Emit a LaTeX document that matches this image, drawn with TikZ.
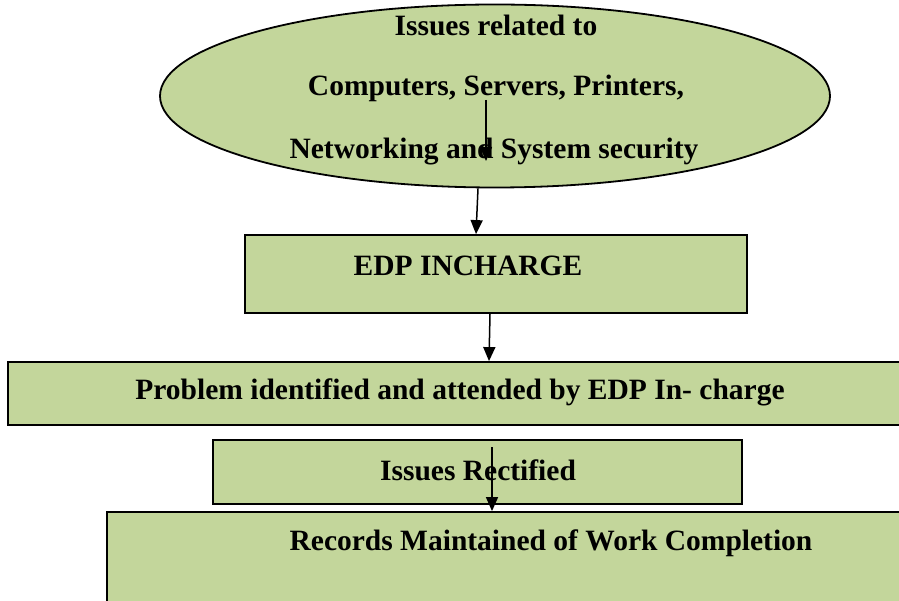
\documentclass[tikz,border=0pt]{standalone}
\usepackage{fontspec}
\setmainfont{Liberation Serif}
\usetikzlibrary{shapes.geometric,arrows.meta}
\definecolor{boxfill}{HTML}{C3D69B}
\tikzset{
  box/.style={draw=black, line width=1.8pt, fill=boxfill, rectangle, inner sep=0pt},
  oval/.style={draw=black, line width=1.8pt, fill=boxfill, ellipse, inner sep=0pt},
  lbl/.style={font=\fontsize{29.5}{33}\selectfont\bfseries, inner sep=0pt, anchor=center},
  flow/.style={draw=black, line width=1.5pt, -{Triangle[length=14pt,width=12pt]}}
}
\begin{document}
\begin{tikzpicture}[x=1pt,y=-1pt]
\useasboundingbox (0,0) rectangle (899,601);
\clip (0,0) rectangle (899,601);
\node[oval, minimum width=670pt, minimum height=183pt] (issues) at (495,96) {};
\node[lbl] (t1) at (496,25) {Issues related to};
\node[lbl] (t2) at (496,88) {Computers, Servers, Printers,};
\node[lbl] (t3) at (494,152) {Networking and System security};
\node[box, minimum width=502pt, minimum height=78pt] (edp) at (496,274) {};
\node[lbl] (tedp) at (468,266) {EDP INCHARGE};
\node[box, minimum width=960pt, minimum height=63pt] (prob) at (488,393.5) {};
\node[lbl] (tprob) at (460,392) {Problem identified and attended by EDP In- charge};
\node[box, minimum width=529pt, minimum height=64pt] (rect) at (477.5,472) {};
\node[lbl] (trect) at (478,470) {Issues Rectified};
\node[box, minimum width=860pt, minimum height=140pt] (rec) at (537,582) {};
\node[lbl] (trec) at (551,543) {Records Maintained of Work Completion};
\coordinate (a1s) at (486,100);
\coordinate (a1e) at (486,161);
\draw[flow] (a1s) -- (a1e);
\draw[flow] (issues.south -| 478,0) -- (edp.north -| 476,0);
\draw[flow] (edp.south -| 490,0) -- (prob.north -| 489,0);
\coordinate (a4s) at (492,447);
\draw[flow] (a4s) -- (rec.north -| 492,0);
\end{tikzpicture}
\end{document}
